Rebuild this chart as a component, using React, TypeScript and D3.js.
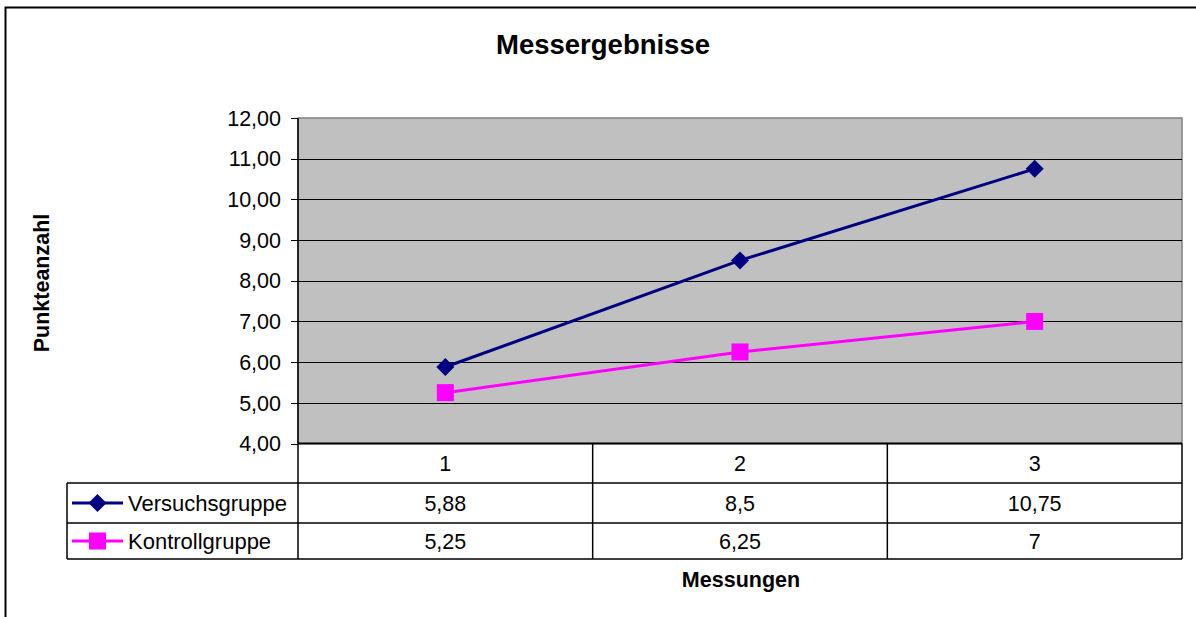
import React from "react";
import * as d3 from "d3";

const categories = ["1", "2", "3"];
const versuchsgruppe = [5.88, 8.5, 10.75];
const kontrollgruppe = [5.25, 6.25, 7];
const versuchsLabels = ["5,88", "8,5", "10,75"];
const kontrollLabels = ["5,25", "6,25", "7"];
const yTicks = [4, 5, 6, 7, 8, 9, 10, 11, 12];

const series = [
  { name: "Versuchsgruppe", values: versuchsgruppe, labels: versuchsLabels, color: "#000080", marker: "diamond" },
  { name: "Kontrollgruppe", values: kontrollgruppe, labels: kontrollLabels, color: "#FF00FF", marker: "square" },
];

const W = 1196;
const H = 617;
const FONT = "Arimo, 'Liberation Sans', Arial, Helvetica, sans-serif";

export default function App() {
  const x0 = 298, x1 = 1182, yTop = 118, yBot = 443.5;
  const x = d3.scaleBand<string>().domain(categories).range([x0, x1]).padding(0);
  const y = d3.scaleLinear().domain([4, 12]).range([yBot, yTop]);
  const cx = (c: string) => (x(c) as number) + x.bandwidth() / 2;
  const fmt = (v: number) => d3.format(".2f")(v).replace(".", ",");

  const tableLeft = 67;
  const rowLines = [483, 523, 559];
  const rowCenters = [(yBot + rowLines[0]) / 2, (rowLines[0] + rowLines[1]) / 2, (rowLines[1] + rowLines[2]) / 2];

  const line = d3
    .line<number>()
    .x((_, i) => cx(categories[i]))
    .y((v) => y(v));

  const marker = (kind: string, px: number, py: number, color: string, key: string) => {
    if (kind === "diamond") {
      const r = 9;
      return <path key={key} d={`M${px},${py - r}L${px + r},${py}L${px},${py + r}L${px - r},${py}Z`} fill={color} />;
    }
    const s = 8.5;
    return <rect key={key} x={px - s} y={py - s} width={2 * s} height={2 * s} fill={color} />;
  };

  return (
    <svg width={W} height={H} style={{ position: "absolute", left: 0, top: 0, background: "#fff" }} fontFamily={FONT}>
      <rect x={0} y={0} width={W} height={H} fill="#fff" />
      {/* outer border */}
      <rect x={5.5} y={7.5} width={W + 20} height={H + 20} fill="none" stroke="#000" strokeWidth={2} />

      {/* title */}
      <text x={603} y={53.5} textAnchor="middle" fontSize={27.5} fontWeight="bold">
        Messergebnisse
      </text>

      {/* plot area */}
      <rect x={x0} y={yTop} width={x1 - x0} height={yBot - yTop} fill="#C0C0C0" stroke="#808080" strokeWidth={1.5} />

      {/* gridlines */}
      {yTicks.filter((t) => t !== 4 && t !== 12).map((t) => (
        <line key={"g" + t} x1={x0} x2={x1} y1={Math.round(y(t)) + 0.5} y2={Math.round(y(t)) + 0.5} stroke="#000" strokeWidth={1} />
      ))}

      {/* y axis */}
      <line x1={x0} x2={x0} y1={yTop} y2={rowLines[2]} stroke="#000" strokeWidth={1.5} />
      {yTicks.map((t) => (
        <g key={"t" + t}>
          <line x1={x0 - 7} x2={x0} y1={Math.round(y(t)) + 0.5} y2={Math.round(y(t)) + 0.5} stroke="#000" strokeWidth={1} />
          <text x={281} y={y(t)} dy="0.36em" textAnchor="end" fontSize={21.5}>
            {fmt(t)}
          </text>
        </g>
      ))}

      {/* y axis title */}
      <text transform={`translate(49,283) rotate(-90)`} textAnchor="middle" fontSize={21.5} fontWeight="bold">
        Punkteanzahl
      </text>

      {/* series */}
      {series.map((s) => (
        <g key={s.name}>
          <path d={line(s.values) as string} fill="none" stroke={s.color} strokeWidth={3} />
          {s.values.map((v, i) => marker(s.marker, cx(categories[i]), y(v), s.color, s.name + i))}
        </g>
      ))}

      {/* data table */}
      <line x1={x0} x2={x1} y1={yBot} y2={yBot} stroke="#000" strokeWidth={2} />
      {rowLines.map((ry, i) => (
        <line key={"r" + i} x1={tableLeft} x2={x1} y1={ry} y2={ry} stroke="#000" strokeWidth={1.5} />
      ))}
      <line x1={tableLeft} x2={tableLeft} y1={rowLines[0]} y2={rowLines[2]} stroke="#000" strokeWidth={1.5} />
      {categories.map((c) => (
        <line key={"c" + c} x1={(x(c) as number) + x.bandwidth()} x2={(x(c) as number) + x.bandwidth()} y1={yBot} y2={rowLines[2]} stroke="#000" strokeWidth={1.5} />
      ))}
      {categories.map((c) => (
        <text key={"h" + c} x={cx(c)} y={rowCenters[0]} dy="0.36em" textAnchor="middle" fontSize={21.5}>
          {c}
        </text>
      ))}
      {series.map((s, si) => (
        <g key={"row" + s.name}>
          <line x1={72} x2={123} y1={rowCenters[si + 1]} y2={rowCenters[si + 1]} stroke={s.color} strokeWidth={3} />
          {marker(s.marker, 97.5, rowCenters[si + 1], s.color, "lm" + si)}
          <text x={128} y={rowCenters[si + 1]} dy="0.36em" fontSize={22}>
            {s.name}
          </text>
          {s.labels.map((l, i) => (
            <text key={"v" + i} x={cx(categories[i])} y={rowCenters[si + 1]} dy="0.36em" textAnchor="middle" fontSize={21.5}>
              {l}
            </text>
          ))}
        </g>
      ))}

      {/* x axis title */}
      <text x={741} y={587} textAnchor="middle" fontSize={21.5} fontWeight="bold">
        Messungen
      </text>
    </svg>
  );
}
